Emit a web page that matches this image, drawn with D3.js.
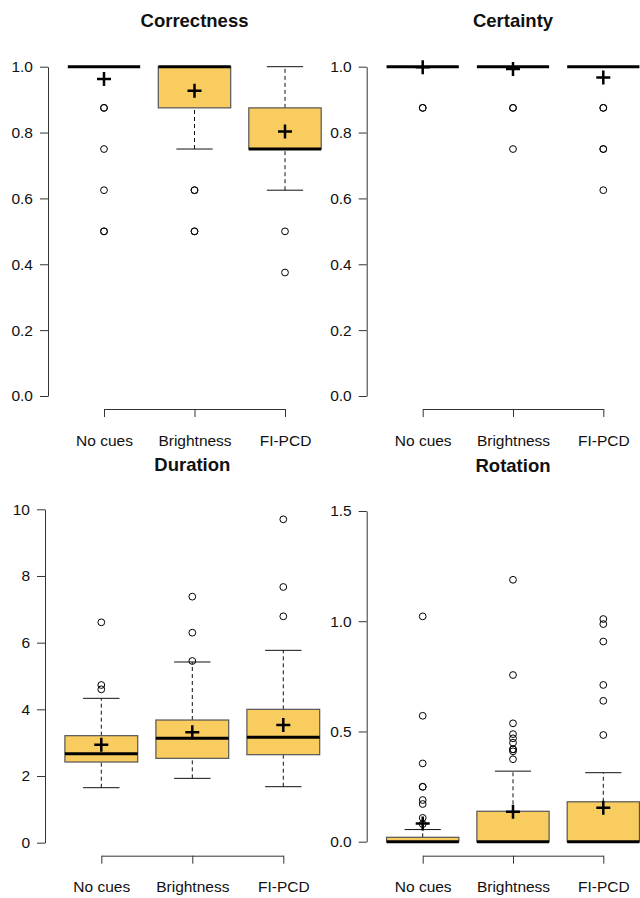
<!DOCTYPE html>
<html>
<head>
<meta charset="utf-8">
<script src="https://cdn.jsdelivr.net/npm/d3@7"></script>
<style>
  body { margin: 0; background: #fff; }
  svg { display: block; font-family: "Liberation Sans", Arial, sans-serif; }
  .axis text { font-size: 15.5px; fill: #111; }
  .axis path, .axis line { stroke: #333; }
  .title { font-size: 18.5px; font-weight: bold; fill: #111; }
</style>
</head>
<body>
<div id="chart"></div>
<script>
/////////////////////////////////////
///      DATA
/////////////////////////////////////

var categories = ["No cues", "Brightness", "FI-PCD"];

// [lower whisker, Q1, median, Q3, upper whisker]
var correctnessBox = [[1, 1, 1, 1, 1], [0.75, 0.875, 1, 1, 1], [0.625, 0.75, 0.75, 0.875, 1]];
var correctnessMean = [0.963, 0.927, 0.803];
var correctnessOut = [[0.875, 0.875, 0.75, 0.625, 0.5, 0.5], [0.625, 0.625, 0.5, 0.5], [0.5, 0.375]];
var correctnessTicks = [0, 0.2, 0.4, 0.6, 0.8, 1.0];

var certaintyBox = [[1, 1, 1, 1, 1], [1, 1, 1, 1, 1], [1, 1, 1, 1, 1]];
var certaintyMean = [0.998, 0.993, 0.967];
var certaintyOut = [[0.875, 0.875], [0.875, 0.875, 0.75], [0.875, 0.875, 0.75, 0.75, 0.625]];
var certaintyTicks = [0, 0.2, 0.4, 0.6, 0.8, 1.0];

var durationBox = [[1.65, 2.42, 2.67, 3.21, 4.33], [1.93, 2.53, 3.13, 3.68, 5.42], [1.68, 2.64, 3.16, 4.0, 5.77]];
var durationMean = [2.94, 3.31, 3.53];
var durationOut = [[4.60, 4.73, 6.61], [5.45, 6.30, 7.38], [6.79, 7.67, 9.70]];
var durationTicks = [0, 2, 4, 6, 8, 10];

var rotationBox = [[0, 0, 0, 0.02, 0.055], [0, 0, 0, 0.138, 0.32], [0, 0, 0, 0.181, 0.313]];
var rotationMean = [0.082, 0.136, 0.154];
var rotationOut = [[0.08, 0.108, 0.171, 0.189, 0.249, 0.249, 0.355, 0.571, 1.022],
                   [0.374, 0.41, 0.419, 0.419, 0.449, 0.469, 0.488, 0.537, 0.756, 1.188],
                   [0.484, 0.639, 0.711, 0.908, 0.987, 1.01]];
var rotationTicks = [0, 0.5, 1.0, 1.5];

/////////////////////////////////////
///      LAYOUT
/////////////////////////////////////

var width = 640, height = 898;
var boxFill = "#F9CC5F";

var panels = [
  {title: "Correctness", box: correctnessBox, mean: correctnessMean, out: correctnessOut, ticks: correctnessTicks,
   fmt: d3.format(".1f"), dom: [0, 1], yr: [396, 66.7], axisX: 48, x0: 104, x1: 285, xAxisY: 409, titleY: 27.3},
  {title: "Certainty", box: certaintyBox, mean: certaintyMean, out: certaintyOut, ticks: certaintyTicks,
   fmt: d3.format(".1f"), dom: [0, 1], yr: [396, 66.7], axisX: 366.7, x0: 422.7, x1: 603.3, xAxisY: 409, titleY: 27.3},
  {title: "Duration", box: durationBox, mean: durationMean, out: durationOut, ticks: durationTicks,
   fmt: d3.format("d"), dom: [0, 10], yr: [842.7, 509.3], axisX: 45, x0: 101.3, x1: 283.3, xAxisY: 855.7, titleY: 470.6},
  {title: "Rotation", box: rotationBox, mean: rotationMean, out: rotationOut, ticks: rotationTicks,
   fmt: d3.format(".1f"), dom: [0, 1.5], yr: [841.7, 511], axisX: 366.7, x0: 422.7, x1: 603.3, xAxisY: 855.7, titleY: 471.6}
];

var svg = d3.select("#chart").append("svg")
    .attr("width", width)
    .attr("height", height);

panels.forEach(function(p) { drawPanel(p); });

function drawPanel(p) {
  var g = svg.append("g");
  var y = d3.scaleLinear().domain(p.dom).range(p.yr);
  var x = d3.scalePoint().domain(categories).range([p.x0, p.x1]);
  var bw = x.step() * 0.8;

  // y axis
  g.append("g")
    .attr("class", "axis")
    .attr("transform", "translate(" + p.axisX + ",0)")
    .call(d3.axisLeft(y).tickValues(p.ticks).tickFormat(p.fmt).tickSize(8).tickSizeOuter(0).tickPadding(7));

  // x axis
  g.append("g")
    .attr("class", "axis")
    .attr("transform", "translate(0," + p.xAxisY + ")")
    .call(d3.axisBottom(x).tickSize(8).tickSizeOuter(0).tickPadding(17.5));

  g.selectAll(".axis path.domain").attr("stroke-width", 1);

  // title
  g.append("text")
    .attr("class", "title")
    .attr("x", (p.x0 + p.x1) / 2)
    .attr("y", p.titleY)
    .attr("text-anchor", "middle")
    .text(p.title);

  categories.forEach(function(c, i) {
    var s = p.box[i], cx = x(c);
    var bg = g.append("g");
    // whiskers
    bg.append("line").attr("x1", cx).attr("x2", cx).attr("y1", y(s[0])).attr("y2", y(s[1]))
      .attr("stroke", "#111").attr("stroke-dasharray", "4,3");
    bg.append("line").attr("x1", cx).attr("x2", cx).attr("y1", y(s[3])).attr("y2", y(s[4]))
      .attr("stroke", "#111").attr("stroke-dasharray", "4,3");
    [s[0], s[4]].forEach(function(v) {
      bg.append("line").attr("x1", cx - bw / 4).attr("x2", cx + bw / 4).attr("y1", y(v)).attr("y2", y(v))
        .attr("stroke", "#111");
    });
    // box
    bg.append("rect")
      .attr("x", cx - bw / 2).attr("width", bw)
      .attr("y", y(s[3])).attr("height", y(s[1]) - y(s[3]))
      .attr("fill", boxFill).attr("stroke", "#555").attr("stroke-width", 1.2);
    // median
    bg.append("line").attr("x1", cx - bw / 2).attr("x2", cx + bw / 2).attr("y1", y(s[2])).attr("y2", y(s[2]))
      .attr("stroke", "#000").attr("stroke-width", 3);
    // outliers
    bg.selectAll("circle").data(p.out[i]).enter().append("circle")
      .attr("cx", cx).attr("cy", function(d) { return y(d); }).attr("r", 3.4)
      .attr("fill", "none").attr("stroke", "#000").attr("stroke-width", 1);
    // mean
    var my = y(p.mean[i]);
    bg.append("path")
      .attr("d", "M" + (cx - 7) + "," + my + "H" + (cx + 7) + "M" + cx + "," + (my - 7) + "V" + (my + 7))
      .attr("stroke", "#000").attr("stroke-width", 2.5).attr("fill", "none");
  });
}
</script>
</body>
</html>
